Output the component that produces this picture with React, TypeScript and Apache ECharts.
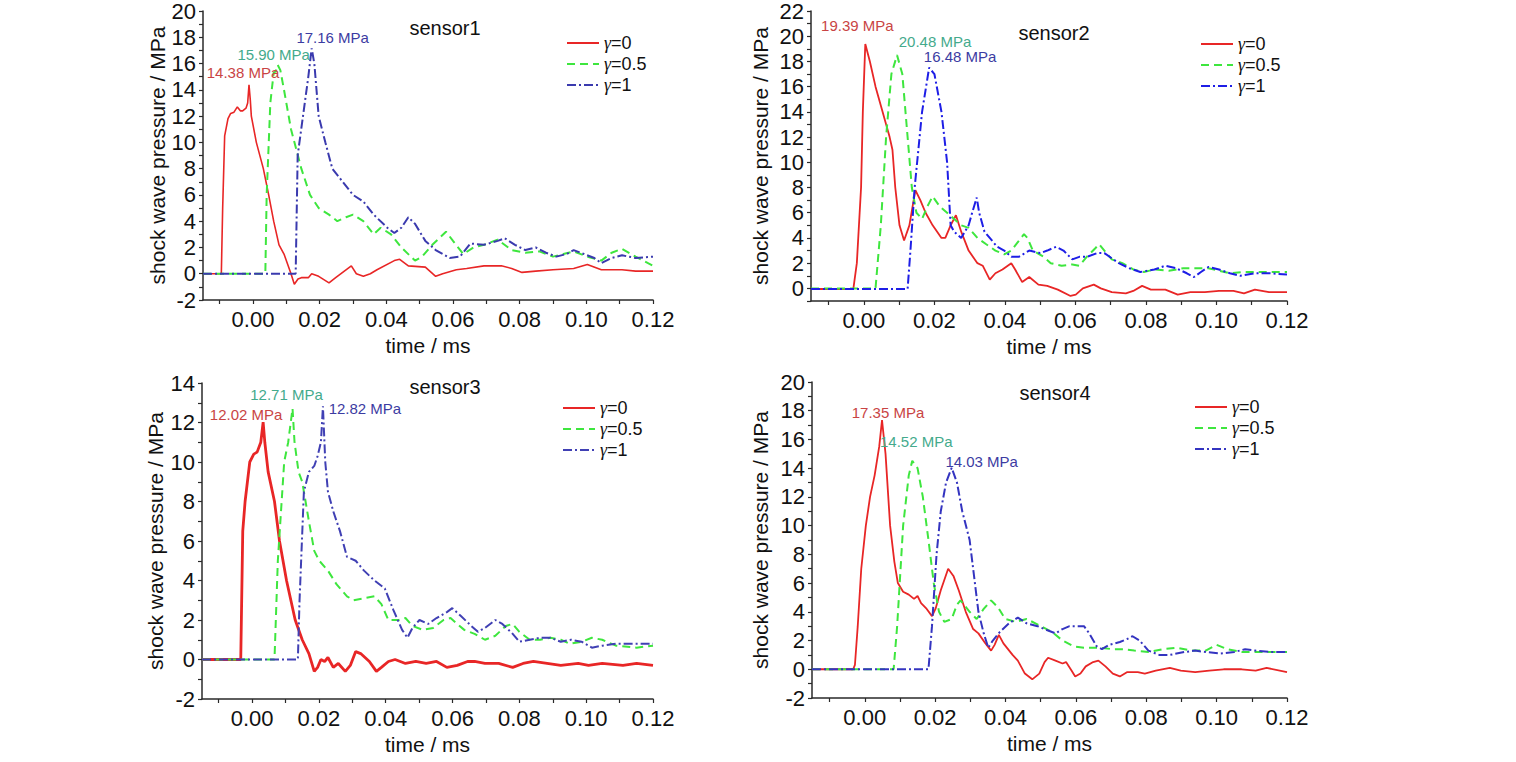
import React, { useEffect, useRef } from 'react';
import * as echarts from 'echarts';

type Pt = [number, number];

const FONT = '"Liberation Sans", Arial, sans-serif';
const SERIF = '"Liberation Serif", "Times New Roman", serif';

// tick and label values
const xTicks = [-0.01, 0, 0.01, 0.02, 0.03, 0.04, 0.05, 0.06, 0.07, 0.08, 0.09, 0.1, 0.11, 0.12];
const xLabels = [0, 0.02, 0.04, 0.06, 0.08, 0.1, 0.12];
const yTicks20 = [-2, -1, 0, 1, 2, 3, 4, 5, 6, 7, 8, 9, 10, 11, 12, 13, 14, 15, 16, 17, 18, 19, 20];
const yLabels20 = [-2, 0, 2, 4, 6, 8, 10, 12, 14, 16, 18, 20];
const yTicks22 = [-1, 0, 1, 2, 3, 4, 5, 6, 7, 8, 9, 10, 11, 12, 13, 14, 15, 16, 17, 18, 19, 20, 21, 22];
const yLabels22 = [0, 2, 4, 6, 8, 10, 12, 14, 16, 18, 20, 22];
const yTicks14 = [-2, -1, 0, 1, 2, 3, 4, 5, 6, 7, 8, 9, 10, 11, 12, 13, 14];
const yLabels14 = [-2, 0, 2, 4, 6, 8, 10, 12, 14];

// sensor 1 (time ms, pressure MPa)
const s1Red: Pt[] = [[-0.015,0],[-0.0095,0],[-0.0091,5],[-0.0085,10.5],[-0.0075,11.8],[-0.0067,12.2],[-0.0057,12.3],[-0.0047,12.7],[-0.0038,12.4],[-0.0031,12.4],[-0.0021,12.6],[-0.0016,13],[-0.0012,14.38],[-0.0008,13.2],[-0.0005,12],[0.001,10],[0.0031,8],[0.0047,6],[0.0062,4],[0.0078,2.2],[0.0093,1.5],[0.0114,0],[0.0124,-0.8],[0.0135,-0.4],[0.0145,-0.3],[0.0166,-0.3],[0.0176,0],[0.0197,-0.2],[0.0228,-0.7],[0.0248,-0.3],[0.0279,0.3],[0.0295,0.6],[0.031,0],[0.0331,-0.2],[0.0352,0],[0.0372,0.3],[0.0424,1.0],[0.044,1.1],[0.0466,0.6],[0.0517,0.5],[0.0548,-0.2],[0.0569,0],[0.061,0.3],[0.0641,0.4],[0.0693,0.6],[0.0745,0.6],[0.0776,0.4],[0.0807,0.1],[0.0848,0.2],[0.09,0.3],[0.0962,0.4],[0.1003,0.7],[0.1045,0.3],[0.1107,0.3],[0.1148,0.2],[0.12,0.2]];
const s1Green: Pt[] = [[-0.015,0],[0.0037,0],[0.0041,6],[0.0052,13],[0.0062,15.3],[0.0068,15.4],[0.0074,15.9],[0.0082,15.5],[0.0093,14],[0.0114,11],[0.0145,8],[0.0171,6],[0.0197,5],[0.0228,4.5],[0.0253,4],[0.0279,4.3],[0.03,4.5],[0.0331,4],[0.0362,3],[0.0383,3.5],[0.0414,3],[0.0445,2],[0.0486,1],[0.0507,1.3],[0.0538,2.2],[0.0579,3.2],[0.06,2.5],[0.0631,1.5],[0.0662,2],[0.0693,2.2],[0.0734,2.6],[0.0776,1.8],[0.0817,1.6],[0.0859,1.7],[0.09,1.3],[0.0931,1.5],[0.0962,1.7],[0.1003,1.3],[0.1045,1.0],[0.1076,1.6],[0.1107,1.9],[0.1148,1.3],[0.12,0.6]];
const s1Blue: Pt[] = [[-0.015,0],[0.0128,0],[0.0134,9],[0.015,12],[0.0166,15],[0.0176,17.16],[0.0184,16],[0.0197,12],[0.0217,10],[0.0238,8],[0.0269,7],[0.03,6],[0.0331,5.5],[0.0362,4.5],[0.0403,3.5],[0.0424,3.1],[0.0445,3.5],[0.0466,4.3],[0.0486,3.8],[0.0517,2.5],[0.0548,1.8],[0.059,1.2],[0.0621,1.3],[0.0652,2.3],[0.0693,2.2],[0.0734,2.5],[0.0755,2.7],[0.0786,2.2],[0.0817,1.8],[0.0848,2],[0.0879,1.6],[0.091,1.3],[0.0941,1.5],[0.0962,1.8],[0.0993,1.5],[0.1024,1.2],[0.1045,0.8],[0.1076,1.2],[0.1107,1.4],[0.1148,1.2],[0.12,1.3]];

// sensor 2
const s2Red: Pt[] = [[-0.015,-0.05],[-0.003,-0.05],[-0.002,2],[-0.0008,8],[-0.0003,14],[0.0004,19.39],[0.0017,18],[0.0033,16],[0.0048,14.5],[0.0073,12],[0.0081,11],[0.0089,8],[0.0101,5],[0.0114,3.8],[0.0129,5],[0.0146,7.8],[0.016,7],[0.0175,6],[0.0195,5],[0.022,4],[0.0231,4],[0.0246,5],[0.0261,5.8],[0.0276,4.5],[0.0297,3],[0.0322,2],[0.0337,1.8],[0.0357,0.7],[0.0373,1.2],[0.0393,1.5],[0.0418,2],[0.0429,1.5],[0.0449,0.5],[0.0469,0.9],[0.0495,0.3],[0.052,0.2],[0.055,-0.1],[0.0586,-0.6],[0.0601,-0.5],[0.0621,0],[0.0652,0.3],[0.0672,0],[0.0703,-0.3],[0.0743,-0.4],[0.0764,-0.2],[0.0789,0.2],[0.0814,-0.1],[0.0855,-0.1],[0.089,-0.5],[0.0926,-0.3],[0.0967,-0.3],[0.1007,-0.2],[0.1048,-0.2],[0.1078,-0.4],[0.1109,-0.1],[0.1149,-0.3],[0.12,-0.3]];
const s2Green: Pt[] = [[-0.015,0],[0.0033,0],[0.0048,5],[0.0063,12],[0.0078,17],[0.0094,18.5],[0.0109,17],[0.0124,12],[0.0136,8],[0.0149,6],[0.0165,5.5],[0.018,6.5],[0.0195,7.3],[0.0215,6.5],[0.0236,6],[0.0256,5.5],[0.0276,5],[0.0297,4.8],[0.0322,4],[0.0347,3.5],[0.0373,3],[0.0398,2.7],[0.0418,3],[0.0454,4.3],[0.0464,4],[0.0479,3],[0.051,2.5],[0.053,2],[0.0561,1.8],[0.0591,1.9],[0.0611,1.8],[0.0632,2.5],[0.0657,3.2],[0.0667,3.5],[0.0682,3],[0.0703,2.3],[0.0733,2],[0.0764,1.5],[0.0794,1.3],[0.0824,1.5],[0.0865,1.4],[0.0906,1.6],[0.0946,1.6],[0.0977,1.6],[0.1007,1.4],[0.1038,1.2],[0.1078,1.3],[0.1129,1.3],[0.12,1.3]];
const s2Blue: Pt[] = [[-0.015,-0.05],[0.0124,-0.05],[0.0132,3],[0.0144,8],[0.0165,14],[0.0185,17.5],[0.02,17],[0.022,14],[0.0236,10],[0.0246,5],[0.0256,4.5],[0.0276,4],[0.0297,5],[0.0307,6],[0.032,7.2],[0.0327,6],[0.0342,4.5],[0.0357,4],[0.0378,3.3],[0.0398,3],[0.0418,2.5],[0.0439,2.5],[0.0469,3],[0.05,2.8],[0.052,3],[0.0545,3.3],[0.0566,3],[0.0591,2.3],[0.0611,2.5],[0.0632,2.5],[0.0662,2.8],[0.0682,2.8],[0.0723,2],[0.0753,1.6],[0.0784,1.3],[0.0824,1.5],[0.0855,1.8],[0.0885,1.6],[0.0916,1.2],[0.0936,0.9],[0.0956,1.3],[0.0977,1.7],[0.1007,1.5],[0.1038,1.2],[0.1068,1.0],[0.1109,1.2],[0.1149,1.2],[0.12,1.1]];

// sensor 3
const s3Red: Pt[] = [[-0.015,0],[-0.0034,0],[-0.0028,6.5],[-0.0021,8],[-0.0007,10],[0.0005,10.4],[0.0015,10.5],[0.0026,11],[0.0033,12.02],[0.0038,11],[0.0048,9.5],[0.0067,8],[0.0082,6],[0.0103,4],[0.0129,2],[0.015,1],[0.017,0.3],[0.0186,-0.6],[0.0196,-0.4],[0.0206,0],[0.0217,-0.1],[0.0227,0.1],[0.0243,-0.4],[0.0258,-0.2],[0.0279,-0.6],[0.0294,-0.3],[0.031,0.4],[0.0325,0.3],[0.0351,-0.1],[0.0372,-0.6],[0.0387,-0.4],[0.0408,-0.1],[0.0428,0],[0.0459,-0.2],[0.049,-0.1],[0.0521,-0.2],[0.0552,-0.1],[0.0583,-0.4],[0.0614,-0.3],[0.0645,-0.1],[0.0666,-0.1],[0.0697,-0.2],[0.0738,-0.2],[0.078,-0.4],[0.0811,-0.2],[0.0842,-0.1],[0.0883,-0.2],[0.0924,-0.3],[0.0976,-0.2],[0.1007,-0.3],[0.1048,-0.2],[0.111,-0.3],[0.1151,-0.2],[0.12,-0.3]];
const s3Green: Pt[] = [[-0.015,0],[0.0067,0],[0.0077,5],[0.0096,10],[0.0108,11],[0.0121,12.71],[0.0127,11],[0.0139,9.5],[0.015,9],[0.016,8],[0.017,7],[0.0186,5.5],[0.0201,5],[0.0227,4.5],[0.0253,3.8],[0.0284,3.2],[0.0304,3],[0.0335,3.1],[0.0366,3.2],[0.0387,2.8],[0.0408,2],[0.0439,2],[0.0459,2.1],[0.048,1.7],[0.0511,1.5],[0.0542,1.6],[0.0573,2],[0.0594,2.1],[0.0614,1.8],[0.0635,1.5],[0.0666,1.3],[0.0697,1.0],[0.0728,1.2],[0.0759,1.7],[0.078,1.8],[0.08,1.4],[0.0831,1.0],[0.0862,1.0],[0.0893,1.1],[0.0924,1.0],[0.095,0.8],[0.0986,0.9],[0.1017,1.1],[0.1048,1.0],[0.1089,0.7],[0.1151,0.6],[0.12,0.7]];
const s3Blue: Pt[] = [[-0.015,0],[0.0137,0],[0.0142,3],[0.0155,8.5],[0.017,9.5],[0.0186,9.8],[0.0196,10.3],[0.0206,11],[0.0212,12.82],[0.0219,10],[0.0227,8.5],[0.0243,7.5],[0.0263,6.5],[0.0284,5.2],[0.031,5.0],[0.0335,4.5],[0.0366,4],[0.0397,3.6],[0.0423,2.5],[0.0449,1.5],[0.0465,1.1],[0.048,1.6],[0.0501,2],[0.0527,1.8],[0.0552,2.1],[0.0583,2.4],[0.0599,2.6],[0.0625,2.2],[0.0656,1.7],[0.0676,1.4],[0.0697,1.6],[0.0728,2.0],[0.0749,1.8],[0.078,1.3],[0.08,0.9],[0.0831,1.0],[0.0862,1.1],[0.0893,1.1],[0.0924,0.9],[0.0955,1.0],[0.0986,0.9],[0.1017,0.6],[0.1048,0.7],[0.1089,0.8],[0.1151,0.8],[0.12,0.8]];

// sensor 4
const s4Red: Pt[] = [[-0.015,0],[-0.0033,0],[-0.0028,0.3],[-0.002,3],[-0.001,7],[0.0003,10],[0.0015,12],[0.0028,13.5],[0.0041,15.5],[0.0049,17.35],[0.0059,15],[0.0072,10],[0.0084,7.5],[0.0094,6],[0.0109,5.4],[0.0125,5.2],[0.014,4.9],[0.015,5.1],[0.016,4.6],[0.0176,4.2],[0.0191,3.7],[0.0201,4.2],[0.0216,5.5],[0.0237,7],[0.0252,6.5],[0.0267,5.5],[0.0287,4],[0.0308,2.8],[0.0323,2.5],[0.0343,1.8],[0.0359,1.3],[0.0369,1.7],[0.0381,2.4],[0.0394,1.8],[0.042,1.0],[0.0435,0.6],[0.0455,-0.3],[0.0476,-0.7],[0.0496,-0.3],[0.0511,0.5],[0.0521,0.8],[0.0542,0.6],[0.0562,0.4],[0.0572,0.5],[0.0588,-0.1],[0.0598,-0.5],[0.0613,-0.3],[0.0628,0.2],[0.0649,0.5],[0.0664,0.6],[0.0684,0.2],[0.0705,-0.3],[0.0725,-0.5],[0.0745,-0.2],[0.0776,-0.2],[0.0796,-0.3],[0.0827,-0.1],[0.0867,0.1],[0.0898,-0.1],[0.0939,-0.2],[0.0979,-0.1],[0.102,0],[0.1071,0],[0.1111,-0.1],[0.1142,0.1],[0.12,-0.2]];
const s4Green: Pt[] = [[-0.015,0],[0.0082,0],[0.0092,3],[0.0109,10],[0.0125,13.5],[0.0135,14.52],[0.015,14],[0.0165,12],[0.0181,9],[0.0196,6],[0.0211,4],[0.0226,3.3],[0.0247,3.5],[0.0262,4.5],[0.0272,4.8],[0.0298,4],[0.0318,3.5],[0.0338,4.2],[0.0359,4.8],[0.0379,4.3],[0.0399,3.5],[0.043,3.3],[0.046,3.5],[0.0501,3.0],[0.0532,2.6],[0.0562,2.0],[0.0593,1.6],[0.0623,1.5],[0.0664,1.5],[0.0705,1.4],[0.0735,1.4],[0.0766,1.3],[0.0806,1.2],[0.0847,1.4],[0.0888,1.5],[0.0928,1.3],[0.0969,1.3],[0.1,1.7],[0.103,1.4],[0.1071,1.2],[0.1122,1.2],[0.12,1.2]];
const s4Blue: Pt[] = [[-0.015,0],[0.0181,0],[0.0191,3],[0.0204,8],[0.0216,11],[0.0231,13],[0.0247,14.03],[0.0262,13],[0.0277,11],[0.0298,9],[0.0308,7],[0.0323,4],[0.0338,2.5],[0.0351,1.5],[0.0364,2],[0.0384,2.6],[0.041,3.2],[0.0435,3.6],[0.046,3.2],[0.0491,3],[0.0521,2.7],[0.0542,2.5],[0.0562,2.8],[0.0582,3],[0.0623,3.0],[0.0638,2.5],[0.0659,1.6],[0.0674,1.4],[0.0694,1.7],[0.0725,1.9],[0.0745,2.1],[0.0761,2.3],[0.0781,2.0],[0.0806,1.3],[0.0837,1.0],[0.0867,1.0],[0.0908,1.2],[0.0939,1.3],[0.0969,1.2],[0.101,1.1],[0.105,1.2],[0.1081,1.4],[0.1111,1.3],[0.1152,1.2],[0.12,1.2]];

const gammaNames = ['γ=0', 'γ=0.5', 'γ=1'];

const RED = '#e82626';
const GREEN = '#3ee63e';
const RED_LBL = '#c94444';
const GREEN_LBL = '#44aa8c';
const BLUE_LBL = '#3c3ca2';

const panels = [
  {
    title: 'sensor1', titleAt: [445, 28],
    grid: { left: 203, top: 8, width: 450, height: 292 },
    yMin: -2, yMax: 20, yTicks: yTicks20, yLabels: yLabels20, yNameGap: 35, xNameGap: 35,
    lines: [s1Red, s1Green, s1Blue], blue: '#3a3aae', redWidth: 1.6,
    peaks: ['14.38 MPa', '15.90 MPa', '17.16 MPa'],
    offsets: [[-6, -12], [-4, -10], [21, -11]],
    legendX: 561, legendRows: [38, 59, 80],
  },
  {
    title: 'sensor2', titleAt: [1054, 33],
    grid: { left: 811, top: 8, width: 476, height: 293 },
    yMin: -1, yMax: 22, yTicks: yTicks22, yLabels: yLabels22, yNameGap: 40, xNameGap: 35,
    lines: [s2Red, s2Green, s2Blue], blue: '#1e1ee6', redWidth: 1.8,
    peaks: ['19.39 MPa', '20.48 MPa', '16.48 MPa'],
    offsets: [[-8, -18], [38, -14], [31, -11]],
    legendX: 1195, legendRows: [39, 60, 81],
  },
  {
    title: 'sensor3', titleAt: [445, 387],
    grid: { left: 202, top: 383, width: 451, height: 316 },
    yMin: -2, yMax: 14, yTicks: yTicks14, yLabels: yLabels14, yNameGap: 36, xNameGap: 35,
    lines: [s3Red, s3Green, s3Blue], blue: '#4040b4', redWidth: 2.8,
    peaks: ['12.02 MPa', '12.71 MPa', '12.82 MPa'],
    offsets: [[-17, -8], [-6, -14], [42, 2]],
    legendX: 557, legendRows: [403, 424, 445],
  },
  {
    title: 'sensor4', titleAt: [1055, 393],
    grid: { left: 812, top: 382, width: 475, height: 316 },
    yMin: -2, yMax: 20, yTicks: yTicks20, yLabels: yLabels20, yNameGap: 41, xNameGap: 35,
    lines: [s4Red, s4Green, s4Blue], blue: '#3434c0', redWidth: 1.8,
    peaks: ['17.35 MPa', '14.52 MPa', '14.03 MPa'],
    offsets: [[6, -8], [4, -19], [30, -6]],
    legendX: 1189, legendRows: [402, 423, 444],
  },
];

const App: React.FC = () => {
  const chartRef = useRef<HTMLDivElement>(null);

  useEffect(() => {
    if (!chartRef.current) return;
    const chart = echarts.init(chartRef.current, undefined, { renderer: 'svg' });

    const axisLine = { show: true, onZero: false, lineStyle: { color: '#2a2a2a', width: 1.5 } };
    const tickStyle = { lineStyle: { color: '#2a2a2a', width: 1.2 } };
    const labelText = { fontFamily: FONT, fontSize: 22, color: '#111' };
    const nameText = { fontFamily: FONT, fontSize: 21, color: '#111' };

    const grids: any[] = [];
    const xAxes: any[] = [];
    const yAxes: any[] = [];
    const series: any[] = [];
    const legends: any[] = [];
    const texts: any[] = [];

    panels.forEach((p, i) => {
      grids.push({ ...p.grid, containLabel: false });
      xAxes.push({
        type: 'value', gridIndex: i, min: -0.015, max: 0.12,
        name: 'time / ms', nameLocation: 'middle', nameGap: p.xNameGap,
        nameTextStyle: nameText,
        axisLine,
        axisTick: { show: true, length: 4, customValues: xTicks, ...tickStyle },
        axisLabel: {
          customValues: xLabels, margin: 8, ...labelText,
          formatter: (v: number) => v.toFixed(2),
        },
        splitLine: { show: false },
      });
      yAxes.push({
        type: 'value', gridIndex: i, min: p.yMin, max: p.yMax,
        name: 'shock wave pressure / MPa', nameLocation: 'middle', nameGap: p.yNameGap,
        nameTextStyle: nameText,
        axisLine,
        axisTick: { show: true, length: 4, customValues: p.yTicks, ...tickStyle },
        axisLabel: { customValues: p.yLabels, margin: 7, ...labelText },
        splitLine: { show: false },
      });

      const colors = [RED, GREEN, p.blue];
      const lblColors = [RED_LBL, GREEN_LBL, BLUE_LBL];
      const dash: any[] = ['solid', [8, 5], [9, 3, 2, 3]];
      const widths = [p.redWidth, 2, 2];
      const names = gammaNames.map((n) => n + '#' + (i + 1));

      p.lines.forEach((data, k) => {
        series.push({
          type: 'line', name: names[k], xAxisIndex: i, yAxisIndex: i,
          data, symbol: 'none', showSymbol: false, clip: true,
          lineStyle: { color: colors[k], width: widths[k], type: dash[k] },
          itemStyle: { color: colors[k] },
          markPoint: {
            symbol: 'circle', symbolSize: 1,
            itemStyle: { color: 'rgba(0,0,0,0)' },
            label: {
              show: true, position: 'inside', offset: p.offsets[k],
              formatter: p.peaks[k], color: lblColors[k], fontFamily: FONT, fontSize: 15,
            },
            data: [{ type: 'max', valueDim: 'y' }],
          },
        });

        // one legend per row so rows sit exactly where the reference has them
        legends.push({
          left: p.legendX, top: p.legendRows[k] - 9,
          data: [names[k]], itemWidth: 32, itemHeight: 12,
          itemStyle: { color: 'rgba(0,0,0,0)', borderWidth: 0 },
          formatter: (name: string) => '{g|γ}{t|' + name.split('#')[0].slice(1) + '}',
          textStyle: {
            color: '#111', lineHeight: 18,
            rich: {
              g: { fontFamily: SERIF, fontStyle: 'italic', fontSize: 18, lineHeight: 18, color: '#111' },
              t: { fontFamily: FONT, fontSize: 18, lineHeight: 18, color: '#111' },
            },
          },
        });
      });

      texts.push({
        type: 'text', x: p.titleAt[0], y: p.titleAt[1],
        style: {
          text: p.title, fill: '#111', font: '20px ' + FONT,
          textAlign: 'center', textVerticalAlign: 'middle',
        },
      });
    });

    chart.setOption({
      animation: false,
      backgroundColor: '#fff',
      grid: grids,
      xAxis: xAxes,
      yAxis: yAxes,
      legend: legends,
      graphic: texts,
      series,
    });

    return () => {
      chart.dispose();
    };
  }, []);

  return (
    <div
      ref={chartRef}
      style={{ position: 'fixed', left: 0, top: 0, width: '1516px', height: '762px', background: '#fff' }}
    />
  );
};

export default App;
